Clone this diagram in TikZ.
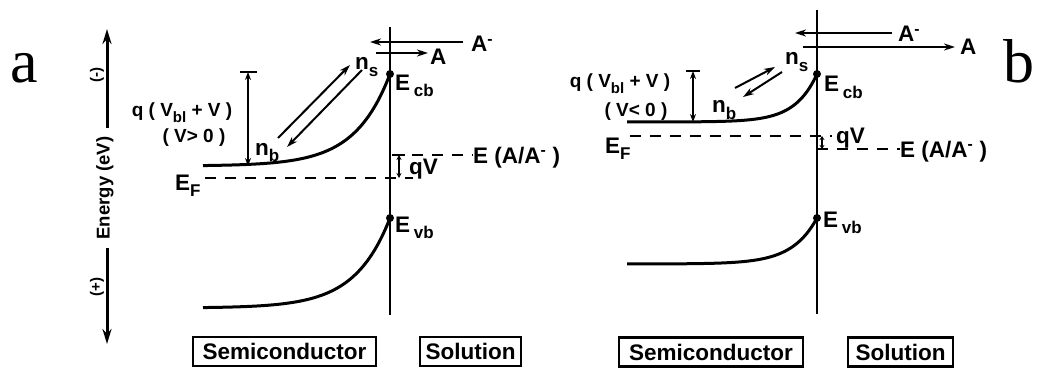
\documentclass[tikz,border=0pt]{standalone}
\usepackage{fontspec}
\setsansfont{Liberation Sans}
\newfontfamily\serifL{Liberation Serif}
\usetikzlibrary{arrows.meta}
\newcommand\lsub[2][17]{\raisebox{-0.3em}{\fontsize{#1}{#1}\selectfont #2}}
\begin{document}
\begin{tikzpicture}[x=1pt,y=-1pt,
  lab/.style={font=\sffamily\bfseries\fontsize{22.5}{22.5}\selectfont, inner sep=0pt},
  qlab/.style={font=\sffamily\bfseries\fontsize{19}{19}\selectfont, inner sep=0pt},
  small/.style={font=\sffamily\bfseries\fontsize{15}{15}\selectfont, inner sep=0pt, rotate=90},
  band/.style={line width=3pt},
  iface/.style={line width=2.5pt},
  lvl/.style={line width=2.2pt, dash pattern=on 11pt off 9pt},
  arr/.style={line width=2pt, -{Stealth[length=11pt,width=7pt]}},
  darr/.style={line width=1.8pt, {Stealth[length=8pt,width=6pt]}-{Stealth[length=8pt,width=6pt]}},
  bar/.style={line width=2pt},
  boxl/.style={draw, line width=2.2pt, font=\sffamily\bfseries\fontsize{22.5}{22.5}\selectfont, minimum height=29pt, inner sep=0pt},
  dot/.style={circle, fill, inner sep=0pt, minimum size=8pt},
  panel/.style={font=\serifL\fontsize{62}{62}\selectfont, inner sep=0pt, anchor=base}]
\useasboundingbox (0,0) rectangle (1039,369);

% panel letters
\node[panel] (la) at (24,82) {a};
\node[panel] (lb) at (1019,82) {b};

% energy axis
\coordinate (ax1) at (107,128);
\coordinate (ax2) at (107,29);
\coordinate (ax3) at (107,248);
\coordinate (ax4) at (107,344);
\draw[line width=3pt, -{Stealth[length=15pt,width=9pt]}] (ax1) -- (ax2);
\draw[line width=3pt, -{Stealth[length=15pt,width=9pt]}] (ax3) -- (ax4);
\node[rotate=90, font=\sffamily\bfseries\fontsize{18.5}{18.5}\selectfont, inner sep=0pt] (en) at (105,188) {Energy (eV)};
\node[small] (mi) at (97,75) {(-)};
\node[small] (pl) at (97,287) {(+)};

%================ panel a =================
\coordinate (ita) at (390,27);
\coordinate (iba) at (390,315);
\draw[iface] (ita) -- (iba);
\node[dot] (cba) at (390,74) {};
\node[dot] (vba) at (390,218) {};
\draw[band] plot[domain=203:390, samples=120, smooth] (\x,{166-92*exp((\x-390)/35)});
\draw[band] plot[domain=203:390, samples=120, smooth] (\x,{308-90*exp((\x-390)/35)});
\node[lab, anchor=base west] (ecba) at (395,90) {E\,\lsub{cb}};
\node[lab, anchor=base west] (evba) at (395,232) {E\,\lsub{vb}};

% Fermi level and redox level
\coordinate (efa1) at (205,178);
\coordinate (efa2) at (413,178);
\draw[lvl] (efa1) -- (efa2);
\node[lab, anchor=base west] (efla) at (175,190) {E\lsub{F}};
\coordinate (eaa1) at (392,155);
\node[lab, anchor=base west] (eala) at (473,163) {E (A/A\textsuperscript{-} )};
\draw[lvl] (eaa1) -- (eala.west |- eaa1);
\coordinate (qva1) at (399,155);
\coordinate (qva2) at (399,178);
\draw[bar] (392,155) -- (405,155);
\draw[line width=1.6pt, {Stealth[length=5pt,width=5pt]}-{Stealth[length=5pt,width=5pt]}] (qva1) -- (qva2);
\node[lab, anchor=base west] (qvla) at (409,174) {qV};

% q(Vbl+V) bracket
\coordinate (qta) at (248,72);
\coordinate (qba) at (248,166);
\draw[bar] (240,72) -- (257,72);
\draw[darr] (qta) -- (qba);
\node[qlab, anchor=base] (qa) at (182,117) {q ( V\lsub[15]{bl} + V )};
\node[qlab, anchor=base] (va) at (194,142) {( V> 0 )};

% carriers
\node[lab, anchor=base west] (nsa) at (355,70) {n\lsub{s}};
\node[lab, anchor=base west] (nba) at (255,155) {n\lsub{b}};
\coordinate (a1s) at (278,138);
\coordinate (a1e) at (350,65);
\coordinate (a2s) at (362,70);
\coordinate (a2e) at (287,147);
\draw[arr] (a1s) -- (a1e);
\draw[arr] (a2s) -- (a2e);

% solution species
\node[lab, anchor=base west] (ama) at (471,52) {A\textsuperscript{-}};
\node[lab, anchor=base west] (aa) at (430,65) {A};
\coordinate (am1) at (463,42);
\coordinate (am2) at (370,42);
\coordinate (ap1) at (376,53);
\coordinate (ap2) at (428,53);
\draw[arr] (am1) -- (am2);
\draw[arr] (ap1) -- (ap2);

% boxes
\node[boxl, minimum width=183pt] (sca) at (284.5,351.5) {Semiconductor};
\node[boxl, minimum width=101pt] (soa) at (470.5,351.5) {Solution};

%================ panel b =================
\coordinate (itb) at (817,10);
\coordinate (ibb) at (817,314);
\draw[iface] (itb) -- (ibb);
\node[dot] (cbb) at (817,74) {};
\node[dot] (vbb) at (817,218) {};
\draw[band] plot[domain=627:817, samples=120, smooth] (\x,{122-48*exp((\x-817)/22)});
\draw[band] plot[domain=627:817, samples=120, smooth] (\x,{264-46*exp((\x-817)/25)});
\node[lab, anchor=base west] (ecbb) at (824,92) {E\,\lsub{cb}};
\node[lab, anchor=base west] (evbb) at (823,227) {E\,\lsub{vb}};

\coordinate (efb1) at (630,136);
\coordinate (efb2) at (832,136);
\draw[lvl] (efb1) -- (efb2);
\node[lab, anchor=base west] (eflb) at (605,153) {E\lsub{F}};
\coordinate (eab1) at (817,149);
\node[lab, anchor=base west] (ealb) at (900,157) {E (A/A\textsuperscript{-} )};
\draw[lvl] (eab1) -- (ealb.west |- eab1);
\coordinate (qvb1) at (822,136);
\coordinate (qvb2) at (822,149);
\draw[bar] (817,149) -- (828,149);
\draw[line width=1.5pt, {Stealth[length=4pt,width=5pt]}-{Stealth[length=4pt,width=5pt]}] (qvb1) -- (qvb2);
\node[lab, anchor=base west] (qvlb) at (836,143) {qV};

\coordinate (qtb) at (693,71);
\coordinate (qbb) at (693,122);
\draw[bar] (686,71) -- (700,71);
\draw[darr] (qtb) -- (qbb);
\node[qlab, anchor=base] (qb) at (620,88) {q ( V\lsub[15]{bl} + V )};
\node[qlab, anchor=base] (vb) at (636,117) {( V< 0 )};

\node[lab, anchor=base west] (nsb) at (785,65) {n\lsub{s}};
\node[lab, anchor=base west] (nbb) at (712,113) {n\lsub{b}};
\coordinate (b1s) at (735,88);
\coordinate (b1e) at (775,67);
\coordinate (b2s) at (782,72);
\coordinate (b2e) at (743,97);
\draw[arr] (b1s) -- (b1e);
\draw[arr] (b2s) -- (b2e);

\node[lab, anchor=base west] (amb) at (898,42) {A\textsuperscript{-}};
\node[lab, anchor=base west] (ab) at (960,55) {A};
\coordinate (bm1) at (892,33);
\coordinate (bm2) at (795,33);
\coordinate (bp1) at (803,47);
\coordinate (bp2) at (955,47);
\draw[arr] (bm1) -- (bm2);
\draw[arr] (bp1) -- (bp2);

\node[boxl, minimum width=184pt] (scb) at (711,352) {Semiconductor};
\node[boxl, minimum width=105pt] (sob) at (900.5,352) {Solution};
\end{tikzpicture}
\end{document}
